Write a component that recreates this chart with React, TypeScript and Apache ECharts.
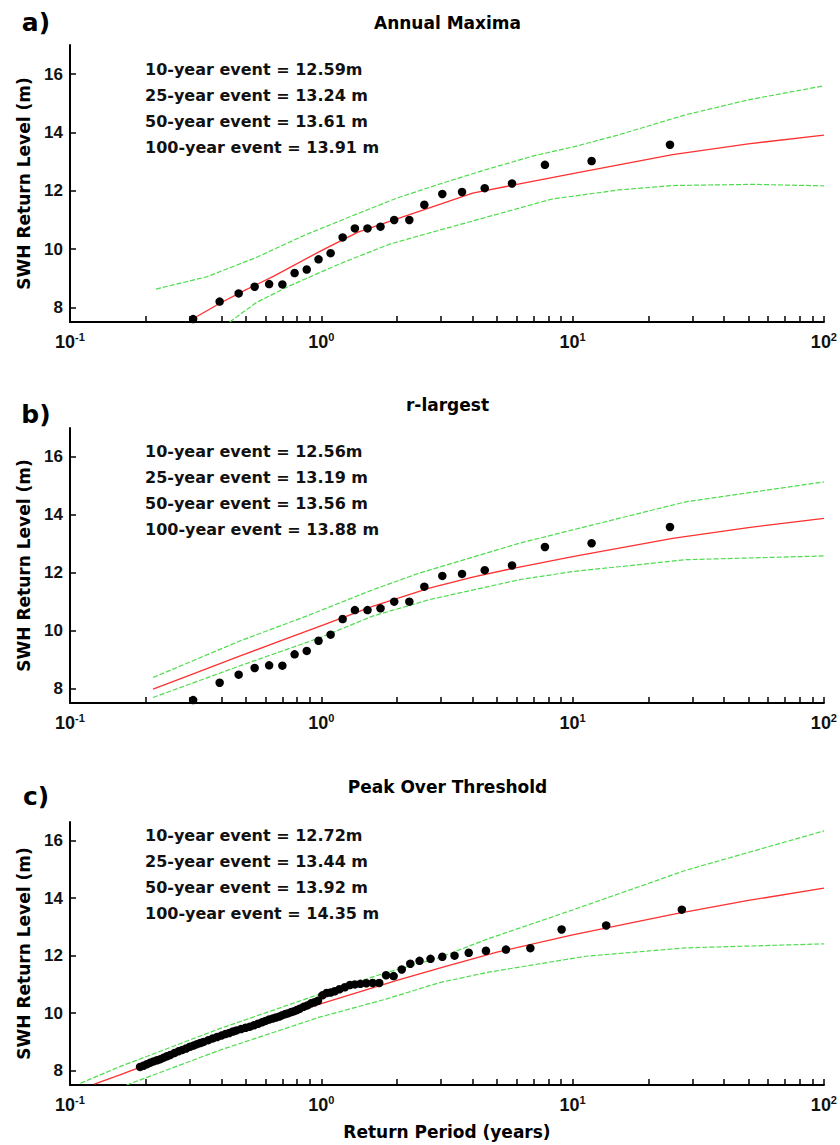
import React, { useEffect, useRef } from "react";
import * as echarts from "echarts";

// ---------- Data ----------
const panelLabels = ["a)", "b)", "c)"];
const panelTitles = ["Annual Maxima", "r-largest", "Peak Over Threshold"];
const eventsAM = ["10-year event = 12.59m", "25-year event = 13.24 m", "50-year event = 13.61 m", "100-year event = 13.91 m"];
const eventsRL = ["10-year event = 12.56m", "25-year event = 13.19 m", "50-year event = 13.56 m", "100-year event = 13.88 m"];
const eventsPOT = ["10-year event = 12.72m", "25-year event = 13.44 m", "50-year event = 13.92 m", "100-year event = 14.35 m"];
const yTickValues = [8, 10, 12, 14, 16];
const xTickValues = [0.1, 0.2, 0.3, 0.4, 0.5, 0.6, 0.7, 0.8, 0.9, 1, 2, 3, 4, 5, 6, 7, 8, 9, 10, 20, 30, 40, 50, 60, 70, 80, 90, 100];

// observed annual maxima (panels a and b)
const obsPeriod = [0.309, 0.394, 0.469, 0.543, 0.62, 0.7, 0.783, 0.875, 0.975, 1.089, 1.216, 1.36, 1.527, 1.72, 1.95, 2.24, 2.57, 3.03, 3.63, 4.47, 5.74, 7.76, 11.9, 24.4];
const obsLevel = [7.6, 8.2, 8.48, 8.71, 8.8, 8.79, 9.18, 9.3, 9.65, 9.86, 10.4, 10.71, 10.71, 10.77, 11.0, 11.0, 11.52, 11.89, 11.96, 12.09, 12.25, 12.89, 13.02, 13.58];

// a) Annual maxima fit and bounds
const amFitT = [0.3, 0.4, 0.5, 0.65, 1.0, 1.4, 2.0, 2.5, 3.0, 4.0, 6.0, 10, 25, 50, 100];
const amFitH = [7.55, 8.17, 8.6, 9.08, 9.95, 10.58, 11.04, 11.32, 11.55, 11.92, 12.22, 12.59, 13.24, 13.61, 13.91];
const amUpT = [0.22, 0.35, 0.55, 0.87, 1.38, 2.0, 3.0, 4.5, 7.0, 10, 15, 28, 50, 100];
const amUpH = [8.63, 9.05, 9.71, 10.5, 11.2, 11.75, 12.25, 12.72, 13.2, 13.5, 13.9, 14.6, 15.12, 15.6];
const amLoT = [0.432, 0.552, 0.748, 1.18, 1.87, 2.46, 4.52, 8.3, 15.3, 24.9, 51.9, 100];
const amLoH = [7.5, 8.17, 8.74, 9.49, 10.17, 10.46, 11.09, 11.72, 12.03, 12.18, 12.22, 12.17];

// b) r-largest fit and bounds
const rlFitT = [0.214, 0.3, 0.473, 0.7, 0.984, 1.6, 2.69, 4.0, 6.0, 10, 25, 50, 100];
const rlFitH = [7.98, 8.46, 9.12, 9.67, 10.15, 10.84, 11.47, 11.85, 12.18, 12.56, 13.19, 13.56, 13.88];
const rlUpT = [0.214, 0.473, 0.872, 1.6, 2.46, 6.14, 10, 28.2, 100];
const rlUpH = [8.38, 9.64, 10.5, 11.41, 11.99, 13.02, 13.48, 14.45, 15.14];
const rlLoT = [0.214, 0.473, 0.984, 1.6, 2.69, 6.14, 10, 28.2, 100];
const rlLoH = [7.69, 8.78, 9.75, 10.5, 11.07, 11.76, 12.04, 12.45, 12.58];

// c) Peak over threshold observations, fit and bounds
const potPeriod = [27.2, 13.6, 9.04, 6.79, 5.43, 4.52, 3.86, 3.39, 3.03, 2.72, 2.46, 2.26, 2.09, 1.94, 1.81,
  1.7, 1.6, 1.51, 1.43, 1.36, 1.3, 1.24, 1.18, 1.13, 1.09, 1.05, 1.01, 0.97, 0.94, 0.91, 0.88, 0.85, 0.82, 0.8, 0.78,
  0.76, 0.74, 0.72, 0.7, 0.68, 0.66, 0.64, 0.62, 0.6, 0.58, 0.56, 0.54, 0.52, 0.5, 0.48, 0.46, 0.445, 0.43, 0.415,
  0.4, 0.385, 0.37, 0.355, 0.34, 0.33, 0.32, 0.31, 0.3, 0.29, 0.28, 0.27, 0.26, 0.25, 0.243, 0.236, 0.229, 0.222,
  0.215, 0.208, 0.202, 0.196, 0.19];
const potLevel = [13.6, 13.05, 12.91, 12.26, 12.21, 12.17, 12.1, 12.0, 11.96, 11.89, 11.82, 11.72, 11.52, 11.29, 11.32,
  11.05, 11.05, 11.04, 11.02, 11.0, 10.98, 10.9, 10.83, 10.76, 10.72, 10.7, 10.62, 10.43, 10.38, 10.34, 10.27, 10.22, 10.15, 10.11, 10.07,
  10.04, 10.0, 9.97, 9.93, 9.88, 9.85, 9.81, 9.78, 9.73, 9.68, 9.63, 9.58, 9.53, 9.49, 9.45, 9.4, 9.36, 9.31, 9.27,
  9.22, 9.17, 9.12, 9.06, 9.0, 8.96, 8.92, 8.87, 8.83, 8.77, 8.72, 8.67, 8.61, 8.54, 8.5, 8.45, 8.4, 8.36,
  8.32, 8.27, 8.22, 8.17, 8.13];
const potFitT = [0.125, 0.158, 0.2, 0.3, 0.5, 1, 2, 3, 5, 10, 25, 50, 100];
const potFitH = [7.53, 7.85, 8.19, 8.75, 9.44, 10.33, 11.14, 11.58, 12.12, 12.72, 13.44, 13.92, 14.35];
const potUpT = [0.11, 0.158, 0.394, 0.984, 1.81, 2.95, 4.52, 10, 28.2, 100];
const potUpH = [7.56, 8.14, 9.46, 10.66, 11.41, 11.93, 12.56, 13.59, 14.97, 16.34];
const potLoT = [0.168, 0.394, 0.984, 1.81, 2.95, 4.52, 11.3, 28.2, 100];
const potLoH = [7.5, 8.71, 9.86, 10.49, 11.06, 11.41, 11.98, 12.27, 12.41];

// ---------- Layout ----------
const layout = [
  { top: 45, height: 277, yMax: 17, titleY: 23, labelY: 22, textTop: 57 },
  { top: 428, height: 275, yMax: 17, titleY: 405, labelY: 414, textTop: 439 },
  { top: 822, height: 263, yMax: 16.65, titleY: 787, labelY: 796, textTop: 823 },
];
const Y_MIN = 7.5;
const GRID_LEFT = 70;
const GRID_WIDTH = 755;

const zip = (xs: number[], ys: number[]) => xs.map((x, i) => [x, ys[i]]);

export default function App() {
  const ref = useRef<HTMLDivElement>(null);

  useEffect(() => {
    if (!ref.current) return;
    const chart = echarts.init(ref.current, undefined, { renderer: "svg" });

    const panels = [
      { obsT: obsPeriod, obsH: obsLevel, fitT: amFitT, fitH: amFitH, upT: amUpT, upH: amUpH, loT: amLoT, loH: amLoH, events: eventsAM },
      { obsT: obsPeriod, obsH: obsLevel, fitT: rlFitT, fitH: rlFitH, upT: rlUpT, upH: rlUpH, loT: rlLoT, loH: rlLoH, events: eventsRL },
      { obsT: potPeriod, obsH: potLevel, fitT: potFitT, fitH: potFitH, upT: potUpT, upH: potUpH, loT: potLoT, loH: potLoH, events: eventsPOT },
    ];

    const wideBold = "DejaVu Sans";
    const tickFont = "Liberation Sans";

    const series: any[] = [];
    panels.forEach((p, i) => {
      const common = { xAxisIndex: i, yAxisIndex: i };
      const lineBase = { type: "line", showSymbol: false, symbol: "none", smooth: false, silent: true };
      series.push({ ...lineBase, ...common, name: "upper", data: zip(p.upT, p.upH), lineStyle: { color: "#4ddd4d", width: 1.2, type: [5, 2] }, z: 2 });
      series.push({ ...lineBase, ...common, name: "lower", data: zip(p.loT, p.loH), lineStyle: { color: "#4ddd4d", width: 1.2, type: [5, 2] }, z: 2 });
      series.push({ ...lineBase, ...common, name: "fit", data: zip(p.fitT, p.fitH), lineStyle: { color: "#ff3030", width: 1.3 }, z: 3 });
      series.push({
        ...common, type: "scatter", name: "observed", data: zip(p.obsT, p.obsH), symbol: "circle", symbolSize: 8.5,
        itemStyle: { color: "#000", opacity: 1 }, z: 4, silent: true,
      });
    });

    const graphic: any[] = [];
    layout.forEach((l, i) => {
      graphic.push({
        type: "text", x: 36, y: l.labelY,
        style: { text: panelLabels[i], fontFamily: wideBold, fontWeight: "bold", fontSize: 25, fill: "#000", align: "center", verticalAlign: "middle" },
      });
      graphic.push({
        type: "text", x: GRID_LEFT + GRID_WIDTH / 2, y: l.titleY,
        style: { text: panelTitles[i], fontFamily: wideBold, fontWeight: "bold", fontSize: 17, fill: "#000", align: "center", verticalAlign: "middle" },
      });
      graphic.push({
        type: "text", x: 145, y: l.textTop,
        style: {
          text: panels[i].events.join("\n"), fontFamily: wideBold, fontWeight: "bold", fontSize: 16, lineHeight: 25.8,
          fill: "#111", align: "left", verticalAlign: "top",
        },
      });
    });

    const option: any = {
      animation: false,
      backgroundColor: "#fff",
      grid: layout.map((l) => ({ left: GRID_LEFT, width: GRID_WIDTH, top: l.top, height: l.height })),
      xAxis: layout.map((l, i) => ({
        type: "log", logBase: 10, min: 0.1, max: 100, gridIndex: i,
        axisLine: { show: true, lineStyle: { color: "#000", width: 2 } },
        axisTick: { show: true, inside: true, length: 6, customValues: xTickValues, lineStyle: { color: "#000", width: 1.5 } },
        splitLine: { show: false },
        minorTick: { show: false },
        axisLabel: {
          margin: 9,
          formatter: (v: number) => `{b|10}{s|${Math.round(Math.log10(v))}}`,
          rich: {
            b: { fontFamily: tickFont, fontWeight: "bold", fontSize: 18, color: "#111", lineHeight: 22 },
            s: { fontFamily: tickFont, fontWeight: "bold", fontSize: 11, color: "#111", verticalAlign: "top", lineHeight: 12 },
          },
        },
        name: i === 2 ? "Return Period (years)" : "",
        nameLocation: "middle",
        nameGap: 38,
        nameTextStyle: { fontFamily: wideBold, fontWeight: "bold", fontSize: 17, color: "#000" },
      })),
      yAxis: layout.map((l, i) => ({
        type: "value", min: Y_MIN, max: l.yMax, gridIndex: i,
        axisLine: { show: true, lineStyle: { color: "#000", width: 2 } },
        axisTick: { show: true, inside: true, length: 6, customValues: yTickValues, lineStyle: { color: "#000", width: 1.5 } },
        axisLabel: { margin: 7, customValues: yTickValues, fontFamily: tickFont, fontWeight: "bold", fontSize: 17, color: "#111" },
        splitLine: { show: false },
        name: "SWH Return Level (m)",
        nameLocation: "middle",
        nameRotate: 90,
        nameGap: 38,
        nameTextStyle: { fontFamily: wideBold, fontWeight: "bold", fontSize: 17, color: "#000" },
      })),
      series,
      graphic,
    };

    chart.setOption(option);
    return () => chart.dispose();
  }, []);

  return (
    <div
      ref={ref}
      style={{ position: "fixed", left: 0, top: 0, width: 840, height: 1145, background: "#fff" }}
    />
  );
}
